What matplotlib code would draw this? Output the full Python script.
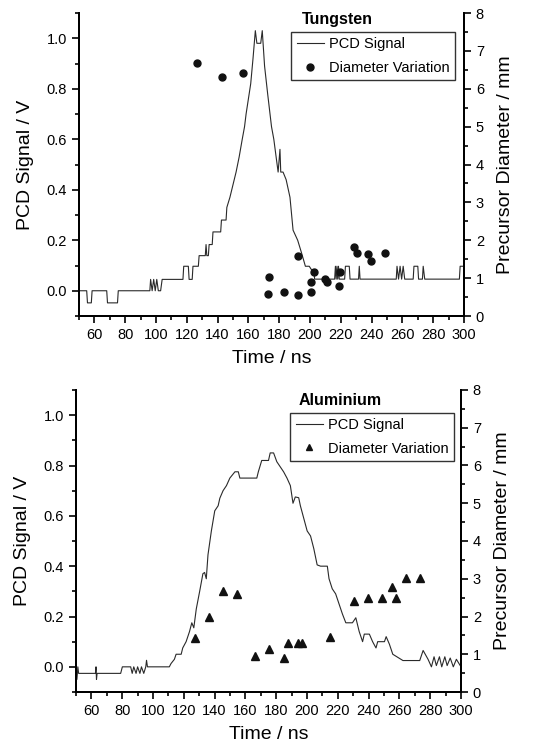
import matplotlib
matplotlib.use("Agg")
import matplotlib.pyplot as plt
from matplotlib.ticker import MultipleLocator
from matplotlib.lines import Line2D

plt.rcParams['font.family'] = ['Liberation Sans', 'DejaVu Sans']

# ---------------- Tungsten data ----------------
w_time = [50, 55, 55.5, 58, 58.5, 68, 68.5, 75, 75.5, 96, 96.5, 97.5, 98.5, 99.5, 100.5, 101.5, 103, 104,
          117.5, 118, 121, 121.5, 123.5, 124, 127.5, 128, 132, 132.5, 133, 134, 134.5, 136.5, 137, 142,
          142.5, 145.5, 146, 148, 150, 152, 154, 156, 157.5, 158.5, 160, 161.5, 163, 164.5, 165.5, 168,
          169, 170.5, 172.5, 175, 176.5, 178, 179.3, 180.5, 181, 182.5, 184.5, 187, 189, 192, 194.5, 197,
          199.5, 201, 202.5, 203, 216, 216.5, 217, 217.5, 218, 218.5, 219, 222.5, 223, 225.5, 226, 231.5,
          232, 232.5, 256, 256.5, 257.5, 258.5, 259.5, 260.5, 261.5, 267, 267.5, 270, 270.5, 273, 273.5,
          274.5, 297, 297.5, 300]
w_signal = [0, 0, -0.048, -0.048, 0, 0, -0.048, -0.048, 0, 0, 0.045, 0, 0.045, 0, 0.045, 0, 0, 0.045,
            0.045, 0.097, 0.097, 0.045, 0.045, 0.097, 0.097, 0.139, 0.139, 0.183, 0.139, 0.139, 0.183, 0.183, 0.233, 0.233,
            0.28, 0.28, 0.33, 0.37, 0.42, 0.47, 0.53, 0.60, 0.65, 0.70, 0.76, 0.82, 0.92, 1.03, 0.98, 0.98,
            1.03, 0.89, 0.78, 0.65, 0.60, 0.53, 0.47, 0.56, 0.47, 0.47, 0.44, 0.37, 0.24, 0.20, 0.15, 0.097,
            0.097, 0.083, 0.083, 0.046, 0.046, 0.097, 0.046, 0.097, 0.046, 0.097, 0.046, 0.046, 0.097, 0.097, 0.046, 0.046,
            0.097, 0.046, 0.046, 0.097, 0.046, 0.097, 0.046, 0.097, 0.046, 0.046, 0.097, 0.097, 0.046, 0.046, 0.097,
            0.046, 0.046, 0.097, 0.097]
w_diam_time = [126.8, 143, 156.8, 173.7, 172.6, 182.8, 191.9, 191.9, 200.7, 200.7, 202.7, 210, 210.9,
               218.9, 219.5, 228.6, 230.8, 237.7, 239.9, 249]
w_diam = [6.68, 6.31, 6.41, 1.04, 0.58, 0.64, 1.59, 0.56, 0.90, 0.64, 1.17, 0.99, 0.90,
          0.78, 1.17, 1.83, 1.66, 1.64, 1.46, 1.66]

# ---------------- Aluminium data ----------------
a_time = [50, 50.6, 51.2, 51.7, 62.6, 63.0, 63.3, 63.7, 79, 80.1, 85.5, 86.5, 87.5, 89, 90, 91.5, 92.5, 94,
          95.3, 95.8, 96.4, 110.6, 111.7, 113.9, 115, 118.3, 119.3, 121.5, 123.7, 125.2, 126.5, 128.1, 130.3,
          132.4, 133.5, 134.6, 135.7, 137.9, 140.1, 142.3, 143.4, 145.5, 147.7, 149.9, 153.2, 155.4, 156.4,
          167.4, 168.4, 170.6, 175, 176.1, 178.3, 180.4, 182.6, 184.8, 187, 189.2, 190.9, 192.4, 194.6, 195.7,
          197.9, 200.1, 202.3, 204.4, 206.6, 208.8, 213.2, 214.3, 216.4, 218.6, 220.8, 223, 225.2, 229.5,
          231.7, 233.9, 236.1, 237.2, 240.5, 242.6, 244.8, 245.9, 250.3, 251.4, 253.5, 255.7, 262.3, 273.2,
          275.4, 278.6, 280.8, 282.5, 284, 286, 287.5, 289.5, 291, 293, 295, 297, 300]
a_signal = [-0.05, -0.05, 0.0, -0.026, -0.026, 0.0, -0.05, -0.026, -0.026, 0.0, 0.0, -0.026, 0.0, -0.026,
            0.0, -0.026, 0.0, -0.026, 0.0, 0.026, 0.0, 0.0, 0.013, 0.03, 0.05, 0.05, 0.075, 0.10, 0.14, 0.175,
            0.155, 0.23, 0.30, 0.37, 0.375, 0.35, 0.445, 0.54, 0.62, 0.64, 0.67, 0.70, 0.72, 0.75, 0.775,
            0.775, 0.75, 0.75, 0.775, 0.82, 0.82, 0.85, 0.85, 0.815, 0.795, 0.775, 0.75, 0.72, 0.65, 0.675,
            0.672, 0.64, 0.59, 0.54, 0.52, 0.47, 0.405, 0.40, 0.40, 0.35, 0.31, 0.29, 0.25, 0.21, 0.175,
            0.175, 0.195, 0.14, 0.10, 0.13, 0.13, 0.10, 0.075, 0.10, 0.10, 0.12, 0.09, 0.05, 0.025, 0.025,
            0.065, 0.03, 0.0, 0.04, 0.005, 0.04, 0.0, 0.04, 0.005, 0.035, 0.0, 0.03, 0.0]
a_diam_time = [127.2, 136.2, 145.5, 154.5, 166.5, 175.6, 184.8, 187.9, 194, 197, 215.1, 230.4, 239.4,
               248.5, 255.3, 257.5, 264.5, 273.6]
a_diam = [1.43, 1.98, 2.68, 2.59, 0.96, 1.15, 0.90, 1.30, 1.30, 1.30, 1.47, 2.42, 2.50,
          2.50, 2.77, 2.50, 3.03, 3.03]

x_ticks_major = 20
W, H = 560, 751

fig = plt.figure(figsize=(W / 100, H / 100), dpi=100)


def make_panel(rect, t, s, dt, d, marker, title, leg_anchor, title_pos):
    ax = fig.add_axes(rect)
    ax.plot(t, s, color='#2a2a2a', lw=0.8)
    ax.set_xlim(50, 300)
    ax.set_ylim(-0.1, 1.1)
    ax.xaxis.set_major_locator(MultipleLocator(x_ticks_major))
    ax.xaxis.set_minor_locator(MultipleLocator(10))
    ax.yaxis.set_major_locator(MultipleLocator(0.2))
    ax.yaxis.set_minor_locator(MultipleLocator(0.1))
    ax.yaxis.set_major_formatter(plt.FuncFormatter(lambda v, p: f"{v:.1f}"))
    ax.spines['top'].set_visible(False)
    for sp in ['left', 'bottom', 'right']:
        ax.spines[sp].set_linewidth(1.4)
    ax.tick_params(which='both', direction='out', labelsize=10.5, width=1.2)
    ax.tick_params(which='major', length=5)
    ax.tick_params(which='minor', length=3)
    ax.set_xlabel('Time / ns', fontsize=14, labelpad=6)
    ax.set_ylabel('PCD Signal / V', fontsize=14, labelpad=9)

    ax2 = ax.twinx()
    ax2.set_ylim(0, 8)
    ax2.plot(dt, d, linestyle='none', marker=marker, color='#111111', ms=5.5 if marker == '^' else 5)
    ax2.yaxis.set_major_locator(MultipleLocator(1))
    ax2.yaxis.set_minor_locator(MultipleLocator(0.5))
    ax2.spines['top'].set_visible(False)
    for sp in ['left', 'bottom', 'right']:
        ax2.spines[sp].set_linewidth(1.4)
    ax2.tick_params(which='both', direction='out', labelsize=10.5, width=1.2)
    ax2.tick_params(which='major', length=5)
    ax2.tick_params(which='minor', length=3)
    ax2.set_ylabel('Precursor Diameter / mm', fontsize=14, labelpad=9)

    handles = [Line2D([], [], color='#2a2a2a', lw=0.8),
               Line2D([], [], linestyle='none', marker=marker, color='#111111', ms=5)]
    leg = ax2.legend(handles, ['PCD Signal', 'Diameter Variation'], loc='upper right',
                     bbox_to_anchor=leg_anchor, fontsize=10.5, frameon=True, fancybox=False,
                     edgecolor='black', handlelength=1.9, borderpad=0.35, labelspacing=0.65,
                     handletextpad=0.35, borderaxespad=0)
    leg.get_frame().set_linewidth(1.0)
    ax2.text(title_pos[0], title_pos[1], title, transform=ax2.transAxes, fontsize=11.5,
             fontweight='bold', ha='left', va='center')
    return ax, ax2


make_panel([79 / W, 1 - 316 / H, 385 / W, 303 / H], w_time, w_signal, w_diam_time, w_diam, 'o',
           'Tungsten', (0.977, 0.937), (0.579, 0.977))
make_panel([76 / W, 1 - 692 / H, 385 / W, 302 / H], a_time, a_signal, a_diam_time, a_diam, '^',
           'Aluminium', (0.982, 0.924), (0.577, 0.964))

fig.savefig('out.png', dpi=100)
